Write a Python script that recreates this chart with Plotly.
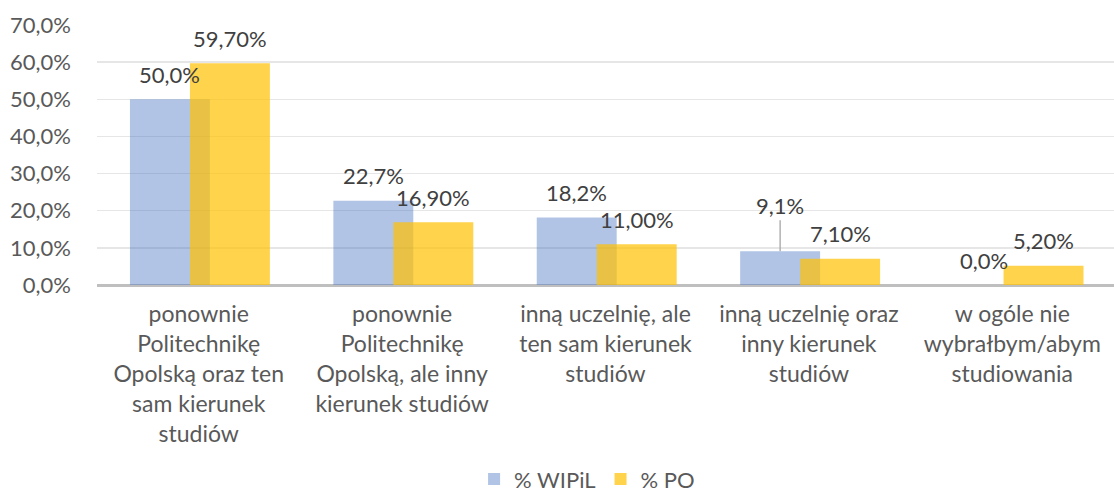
import plotly.graph_objects as go

categories = [
    "ponownie<br>Politechnikę<br>Opolską oraz ten<br>sam kierunek<br>studiów",
    "ponownie<br>Politechnikę<br>Opolską, ale inny<br>kierunek studiów",
    "inną uczelnię, ale<br>ten sam kierunek<br>studiów",
    "inną uczelnię oraz<br>inny kierunek<br>studiów",
    "w ogóle nie<br>wybrałbym/abym<br>studiowania",
]
wipil = [50.0, 22.7, 18.2, 9.1, 0.0]
po = [59.70, 16.90, 11.00, 7.10, 5.20]
series_names = ["% WIPiL", "% PO"]

FONT = "Lato"
BLUE = "rgba(68,114,196,0.42)"
YELLOW = "rgba(255,192,0,0.7)"
W = 0.393
OFF_B = -0.338
OFF_Y = -0.043
NUM_SIZE = 22

fig = go.Figure()
fig.add_trace(go.Bar(x=list(range(len(categories))), y=wipil, name=series_names[0],
                     marker=dict(color=BLUE, line=dict(width=0)),
                     width=W, offset=OFF_B, hoverinfo="skip"))
fig.add_trace(go.Bar(x=list(range(len(categories))), y=po, name=series_names[1],
                     marker=dict(color=YELLOW, line=dict(width=0)),
                     width=W, offset=OFF_Y, hoverinfo="skip"))

ann = []
for i, v in enumerate(wipil):
    txt = f"{v:.1f}%".replace(".", ",")
    xc = i + OFF_B + W / 2
    if i == 3:
        ann.append(dict(x=xc, y=v, text=txt, showarrow=True, arrowhead=0, arrowwidth=1.3,
                        arrowcolor="#A6A6A6", ax=0, ay=-46, standoff=0,
                        font=dict(family=FONT, size=NUM_SIZE, color="#404040")))
    else:
        ann.append(dict(x=xc, y=v, text=txt, showarrow=False, yshift=25, yanchor="middle",
                        font=dict(family=FONT, size=NUM_SIZE, color="#404040")))
for i, v in enumerate(po):
    txt = f"{v:.2f}%".replace(".", ",")
    xc = i + OFF_Y + W / 2
    ann.append(dict(x=xc, y=v, text=txt, showarrow=False, yshift=25, yanchor="middle",
                    font=dict(family=FONT, size=NUM_SIZE, color="#404040")))

fig.update_layout(
    width=1114, height=494,
    margin=dict(l=97, r=0, t=25, b=209, autoexpand=False),
    barmode="overlay",
    plot_bgcolor="white", paper_bgcolor="white",
    separators=", ",
    annotations=ann,
    showlegend=True,
    legend=dict(orientation="h", xref="container", yref="container", x=0.527, y=0.03,
                xanchor="center", yanchor="middle",
                font=dict(family=FONT, size=22, color="#595959"),
                itemwidth=30, traceorder="normal"),
    xaxis=dict(
        tickmode="array", tickvals=list(range(len(categories))), ticktext=categories,
        range=[-0.5, len(categories) - 0.5], automargin=False,
        showgrid=False, zeroline=False, showline=False, ticks="",
        ticklabelstandoff=13,
        tickfont=dict(family=FONT, size=23, color="#595959"), tickangle=0,
    ),
    yaxis=dict(
        range=[0, 70], dtick=10, tickformat=".1f", ticksuffix="%", automargin=False,
        showgrid=True, gridcolor="#E6E6E6", gridwidth=1.5,
        zeroline=True, zerolinecolor="#BFBFBF", zerolinewidth=3,
        showline=False, ticks="", ticklabelstandoff=25,
        tickfont=dict(family=FONT, size=NUM_SIZE, color="#595959"),
    ),
)

fig.write_html("out.html", config={"displayModeBar": False, "staticPlot": True},
               post_script="document.body.style.margin='0';document.body.style.overflow='hidden';")
